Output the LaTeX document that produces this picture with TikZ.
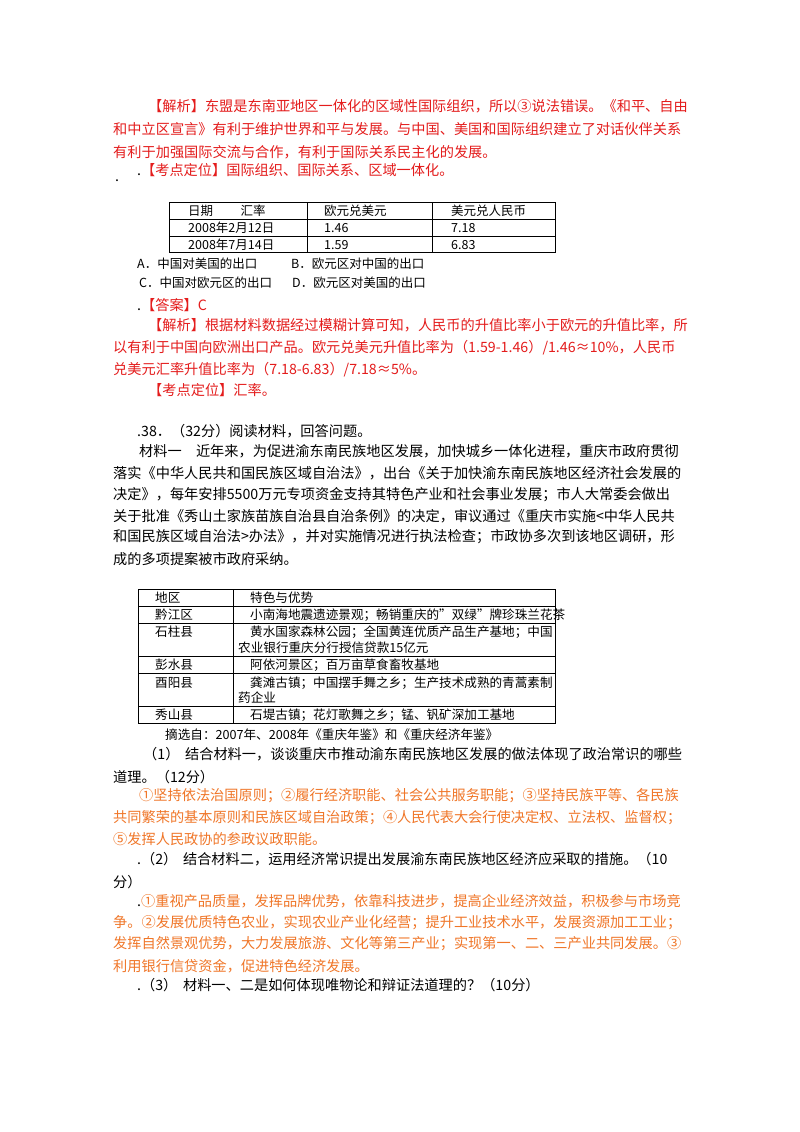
\documentclass[tikz,border=0pt]{standalone}
\usepackage{fontspec}
\setmainfont{Noto Sans CJK SC}
\usetikzlibrary{positioning}
\definecolor{ansred}{RGB}{228,28,28}
\definecolor{ansorange}{RGB}{240,118,40}
\begin{document}
\begin{tikzpicture}[x=1pt,y=-1pt,
    line/.style={anchor=west,inner sep=0pt,font=\fontsize{14.2}{17}\selectfont},
    red/.style={line,text=ansred},
    org/.style={line,text=ansorange},
    cell/.style={anchor=west,inner sep=0pt,font=\fontsize{12.5}{14}\selectfont},
    tcell/.style={anchor=west,inner sep=0pt,font=\fontsize{12.6}{15}\selectfont}]
\useasboundingbox[fill=white] (0,0) rectangle (800,1132);
%
\node[red] (a1) at (148,106) {【解析】东盟是东南亚地区一体化的区域性国际组织，所以③说法错误。《和平、自由};
\node[red] (a2) at (113,129) {和中立区宣言》有利于维护世界和平与发展。与中国、美国和国际组织建立了对话伙伴关系};
\node[red] (a3) at (113,152) {有利于加强国际交流与合作，有利于国际关系民主化的发展。};
\node[red] (a4) at (137,170) {\textcolor{black}{.}【考点定位】国际组织、国际关系、区域一体化。};
\node[line] (d1) at (115,181) {.};
%
\draw[thick] (169,202) rectangle (555,252);
\draw (169,219) -- (555,219) (169,236) -- (555,236);
\draw (307,202) -- (307,252) (432,202) -- (432,252);
\node[cell] (h1) at (188,211) {日期\hspace{2.2em}汇率};
\node[cell] (h2) at (324,211) {欧元兑美元};
\node[cell] (h3) at (451,211) {美元兑人民币};
\node[cell] (r1) at (188,228) {2008年2月12日};
\node[cell] (r2) at (324,228) {1.46};
\node[cell] (r3) at (451,228) {7.18};
\node[cell] (s1) at (188,245) {2008年7月14日};
\node[cell] (s2) at (324,245) {1.59};
\node[cell] (s3) at (451,245) {6.83};
%
\node[cell] (oA) at (137,264) {A．中国对美国的出口};
\node[cell] (oB) at (291,264) {B．欧元区对中国的出口};
\node[cell] (oC) at (139,283) {C．中国对欧元区的出口};
\node[cell] (oD) at (292,283) {D．欧元区对美国的出口};
\node[red] (b1) at (137,305) {\textcolor{black}{.}【答案】C};
\node[red] (b2) at (148,325) {【解析】根据材料数据经过模糊计算可知，人民币的升值比率小于欧元的升值比率，所};
\node[red] (b3) at (113,348) {以有利于中国向欧洲出口产品。欧元兑美元升值比率为（1.59-1.46）/1.46≈10\%，人民币};
\node[red] (b4) at (113,370) {兑美元汇率升值比率为（7.18-6.83）/7.18≈5\%。};
\node[red] (b5) at (148,390) {【考点定位】汇率。};
%
\node[line] (q0) at (137,431) {.38．（32分）阅读材料，回答问题。};
\node[line] (m1) at (139,451) {材料一\hspace{1em}近年来，为促进渝东南民族地区发展，加快城乡一体化进程，重庆市政府贯彻};
\node[line] (m2) at (113,473) {落实《中华人民共和国民族区域自治法》，出台《关于加快渝东南民族地区经济社会发展的};
\node[line] (m3) at (113,495) {决定》，每年安排5500万元专项资金支持其特色产业和社会事业发展；市人大常委会做出};
\node[line] (m4) at (113,516) {关于批准《秀山土家族苗族自治县自治条例》的决定，审议通过《重庆市实施<中华人民共};
\node[line] (m5) at (113,537) {和国民族区域自治法>办法》，并对实施情况进行执法检查；市政协多次到该地区调研，形};
\node[line] (m6) at (113,559) {成的多项提案被市政府采纳。};
%
\draw[thick] (138,589) rectangle (555,723);
\draw (138,606) -- (555,606) (138,623) -- (555,623) (138,656) -- (555,656)
      (138,673) -- (555,673) (138,706) -- (555,706);
\draw (233,589) -- (233,723);
\node[tcell] (t0) at (155,598) {地区};
\node[tcell] (u0) at (250,598) {特色与优势};
\node[tcell] (t1) at (155,615) {黔江区};
\node[tcell] (u1) at (250,615) {小南海地震遗迹景观；畅销重庆的"双绿"牌珍珠兰花茶};
\node[tcell] (t2) at (155,632) {石柱县};
\node[tcell] (u2) at (250,632) {黄水国家森林公园；全国黄连优质产品生产基地；中国};
\node[tcell] (v2) at (238,648) {农业银行重庆分行授信贷款15亿元};
\node[tcell] (t3) at (155,665) {彭水县};
\node[tcell] (u3) at (250,665) {阿依河景区；百万亩草食畜牧基地};
\node[tcell] (t4) at (155,683) {酉阳县};
\node[tcell] (u4) at (250,683) {龚滩古镇；中国摆手舞之乡；生产技术成熟的青蒿素制};
\node[tcell] (v4) at (238,698) {药企业};
\node[tcell] (t5) at (155,715) {秀山县};
\node[tcell] (u5) at (250,715) {石堤古镇；花灯歌舞之乡；锰、钒矿深加工基地};
\node[tcell] (src) at (165,735) {摘选自：2007年、2008年《重庆年鉴》和《重庆经济年鉴》};
%
\node[line] (p1) at (143,754) {（1）\hspace{0.4em}结合材料一，谈谈重庆市推动渝东南民族地区发展的做法体现了政治常识的哪些};
\node[line] (p2) at (113,777) {道理。（12分）};
\node[org] (c1) at (139,796) {①坚持依法治国原则；②履行经济职能、社会公共服务职能；③坚持民族平等、各民族};
\node[org] (c2) at (113,818) {共同繁荣的基本原则和民族区域自治政策；④人民代表大会行使决定权、立法权、监督权；};
\node[org] (c3) at (113,839) {⑤发挥人民政协的参政议政职能。};
\node[line] (p3) at (137,859) {.（2）\hspace{0.4em}结合材料二，运用经济常识提出发展渝东南民族地区经济应采取的措施。（10};
\node[line] (p4) at (113,882) {分）};
\node[org] (e1) at (137,901) {\textcolor{black}{.}①重视产品质量，发挥品牌优势，依靠科技进步，提高企业经济效益，积极参与市场竞};
\node[org] (e2) at (113,923) {争。②发展优质特色农业，实现农业产业化经营；提升工业技术水平，发展资源加工工业；};
\node[org] (e3) at (113,944) {发挥自然景观优势，大力发展旅游、文化等第三产业；实现第一、二、三产业共同发展。③};
\node[org] (e4) at (113,966) {利用银行信贷资金，促进特色经济发展。};
\node[line] (p5) at (137,985) {.（3）\hspace{0.4em}材料一、二是如何体现唯物论和辩证法道理的？（10分）};
\end{tikzpicture}
\end{document}
